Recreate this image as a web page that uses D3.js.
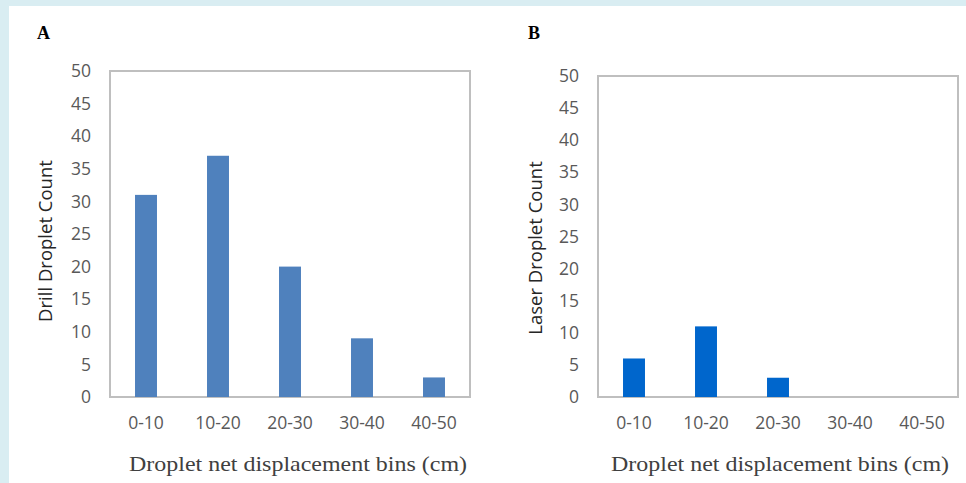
<!DOCTYPE html>
<html>
<head>
<meta charset="utf-8">
<script src="https://cdn.jsdelivr.net/npm/d3@7"></script>
<style>
  html, body { margin: 0; padding: 0; background: #d9edf2; }
  svg { display: block; }
</style>
</head>
<body>
<svg id="chart" width="966" height="483"></svg>
<script>
// Displacement bins shared by both panels
const bins = ["0-10", "10-20", "20-30", "30-40", "40-50"];
// Droplet counts per bin
const drillCounts = [31, 37, 20, 9, 3];
const laserCounts = [6, 11, 3, 0, 0];
// Y axis ticks
const yTicks = [0, 5, 10, 15, 20, 25, 30, 35, 40, 45, 50];
const panelLabels = ["A", "B"];
const yTitles = ["Drill Droplet Count", "Laser Droplet Count"];
const xTitle = "Droplet net displacement bins (cm)";

const svg = d3.select("#chart");

// white card over the tinted page
svg.append("rect")
  .attr("x", 9).attr("y", 6)
  .attr("width", 966 - 9).attr("height", 483 - 6)
  .attr("fill", "#ffffff");

const panels = [
  { label: panelLabels[0], labelX: 37, values: drillCounts, color: "#4f81bd",
    left: 110, right: 470, top: 71, bottom: 397,
    yTitle: yTitles[0], yTitleX: 46, yTitleY: 241, xTitleX: 298 },
  { label: panelLabels[1], labelX: 528, values: laserCounts, color: "#0066cc",
    left: 598, right: 958, top: 76, bottom: 397,
    yTitle: yTitles[1], yTitleX: 536, yTitleY: 248, xTitleX: 780 }
];

const sans = "'Open Sans', 'DejaVu Sans', sans-serif";
const serif = "'Liberation Serif', 'DejaVu Serif', serif";

panels.forEach(p => {
  const g = svg.append("g");

  const x = d3.scaleBand().domain(bins).range([p.left, p.right]).paddingInner(0).paddingOuter(0);
  const y = d3.scaleLinear().domain([0, 50]).range([p.bottom, p.top]);
  const barW = x.bandwidth() * 0.305;

  // panel letter
  g.append("text")
    .attr("x", p.labelX).attr("y", 39)
    .attr("font-family", serif).attr("font-weight", "bold")
    .attr("font-size", 18).attr("fill", "#000")
    .text(p.label);

  // plot frame
  g.append("rect")
    .attr("x", p.left).attr("y", p.top)
    .attr("width", p.right - p.left).attr("height", p.bottom - p.top)
    .attr("fill", "none").attr("stroke", "#bfbfbf").attr("stroke-width", 2);

  // bars
  g.selectAll("rect.bar")
    .data(bins.map((b, i) => ({ bin: b, v: p.values[i] })).filter(d => d.v > 0))
    .join("rect")
    .attr("class", "bar")
    .attr("x", d => x(d.bin) + x.bandwidth() / 2 - barW / 2)
    .attr("y", d => y(d.v))
    .attr("width", barW)
    .attr("height", d => y(0) - y(d.v))
    .attr("fill", p.color);

  // y axis
  const yAxis = g.append("g")
    .attr("transform", `translate(${p.left},0)`)
    .call(d3.axisLeft(y).tickValues(yTicks).tickSize(0).tickPadding(19));
  yAxis.select(".domain").remove();
  yAxis.selectAll("text")
    .attr("font-family", sans).attr("font-size", 17.5).attr("fill", "#595959");

  // x axis
  const xAxis = g.append("g")
    .attr("transform", `translate(0,${p.bottom})`)
    .call(d3.axisBottom(x).tickSize(0).tickPadding(20));
  xAxis.select(".domain").remove();
  xAxis.selectAll("text")
    .attr("font-family", sans).attr("font-size", 17.5).attr("fill", "#595959");

  // y title
  g.append("text")
    .attr("transform", `translate(${p.yTitleX + 6},${p.yTitleY}) rotate(-90)`)
    .attr("text-anchor", "middle")
    .attr("font-family", sans).attr("font-size", 18.5).attr("fill", "#262626")
    .text(p.yTitle);

  // x title
  g.append("text")
    .attr("x", p.xTitleX).attr("y", 471)
    .attr("text-anchor", "middle")
    .attr("font-family", serif).attr("font-size", 22).attr("fill", "#404040")
    .attr("textLength", 338).attr("lengthAdjust", "spacingAndGlyphs")
    .text(xTitle);
});
</script>
</body>
</html>
